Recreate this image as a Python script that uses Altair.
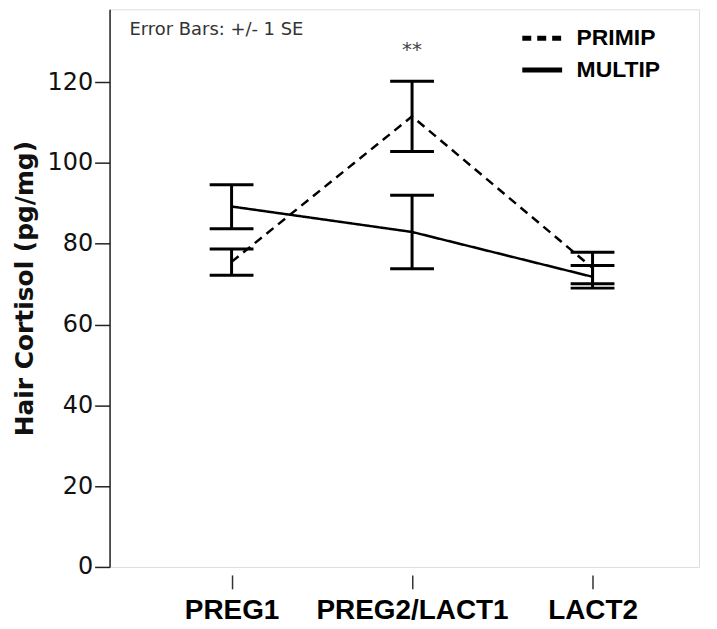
import altair as alt
import pandas as pd

periods = ["PREG1", "PREG2/LACT1", "LACT2"]
groups = ["PRIMIP", "MULTIP"]
primip_mean = [75.5, 111.5, 74.0]
primip_lo = [72.2, 102.8, 70.1]
primip_hi = [78.7, 120.2, 77.9]
multip_mean = [89.2, 82.9, 71.8]
multip_lo = [83.7, 73.8, 69.0]
multip_hi = [94.6, 92.0, 74.6]
y_ticks = [0, 20, 40, 60, 80, 100, 120]

rows = []
for i, p in enumerate(periods):
    rows.append(dict(idx=i, period=p, group="PRIMIP", mean=primip_mean[i], lo=primip_lo[i], hi=primip_hi[i]))
    rows.append(dict(idx=i, period=p, group="MULTIP", mean=multip_mean[i], lo=multip_lo[i], hi=multip_hi[i]))
df = pd.DataFrame(rows)

label_expr = "datum.value == 0 ? 'PREG1' : datum.value == 1 ? 'PREG2/LACT1' : datum.value == 2 ? 'LACT2' : ''"

xscale = alt.Scale(domain=[-0.676, 2.59], nice=False, zero=False)
yscale = alt.Scale(domain=[0, 138], nice=False)

x_enc = alt.X("idx:Q", scale=xscale, title=None,
              axis=alt.Axis(values=[0, 1, 2], labelExpr=label_expr, grid=False, domain=False,
                            offset=8, tickSize=14, tickWidth=1.5, tickColor="#333",
                            labelFont="Liberation Sans", labelFontWeight="bold", labelFontSize=28,
                            labelColor="#000", labelPadding=8, labelLimit=400))
y_enc = alt.Y("mean:Q", scale=yscale, title="Hair Cortisol (pg/mg)",
              axis=alt.Axis(values=y_ticks, grid=False, domainColor="#222", domainWidth=1.5,
                            tickSize=15, tickWidth=1.5, tickColor="#222",
                            labelFont="DejaVu Sans", labelFontSize=24, labelColor="#111", labelPadding=2,
                            titleFont="DejaVu Sans", titleFontWeight="bold", titleFontSize=25,
                            titleColor="#111", titlePadding=10))

dash_scale = alt.Scale(domain=groups, range=[[9, 6], [1, 0]])

lines = alt.Chart(df).mark_line(color="black", strokeWidth=2.5).encode(
    x=x_enc, y=y_enc,
    strokeDash=alt.StrokeDash("group:N", scale=dash_scale, sort=groups,
                              legend=alt.Legend(title=None, orient="none", legendX=412, legendY=14,
                                                symbolType="stroke", symbolSize=1600, symbolStrokeWidth=5,
                                                symbolStrokeColor="black", clipHeight=30, rowPadding=2,
                                                labelFont="Liberation Sans", labelFontWeight="bold",
                                                labelFontSize=23, labelColor="#000", labelOffset=12)),
    detail="group:N",
)

rules = alt.Chart(df).mark_rule(color="black", strokeWidth=3, opacity=1).encode(
    x="idx:Q", y="lo:Q", y2="hi:Q")
caps_lo = alt.Chart(df).mark_tick(color="black", orient="horizontal", size=44, thickness=3, opacity=1).encode(
    x="idx:Q", y="lo:Q")
caps_hi = alt.Chart(df).mark_tick(color="black", orient="horizontal", size=44, thickness=3, opacity=1).encode(
    x="idx:Q", y="hi:Q")

note_df = pd.DataFrame({"x": [-0.566], "y": [133], "t": ["Error Bars: +/- 1 SE"]})
note = alt.Chart(note_df).mark_text(align="left", baseline="middle", font="DejaVu Sans",
                                    fontSize=18, color="#333").encode(x="x:Q", y="y:Q", text="t:N")
star_df = pd.DataFrame({"x": [1], "y": [128], "t": ["**"]})
star = alt.Chart(star_df).mark_text(align="center", baseline="middle", font="DejaVu Sans",
                                    fontSize=20, color="#444").encode(x="x:Q", y="y:Q", text="t:N")

chart = alt.layer(lines, rules, caps_lo, caps_hi, note, star).properties(
    width=592, height=560,
    autosize=alt.AutoSizeParams(type="none"),
    padding={"left": 102, "top": 0, "right": 10, "bottom": 60},
).configure_view(stroke="#777", strokeWidth=1.5).configure(background="white")

chart.save("out.html", embed_options={"renderer": "svg", "actions": False})
